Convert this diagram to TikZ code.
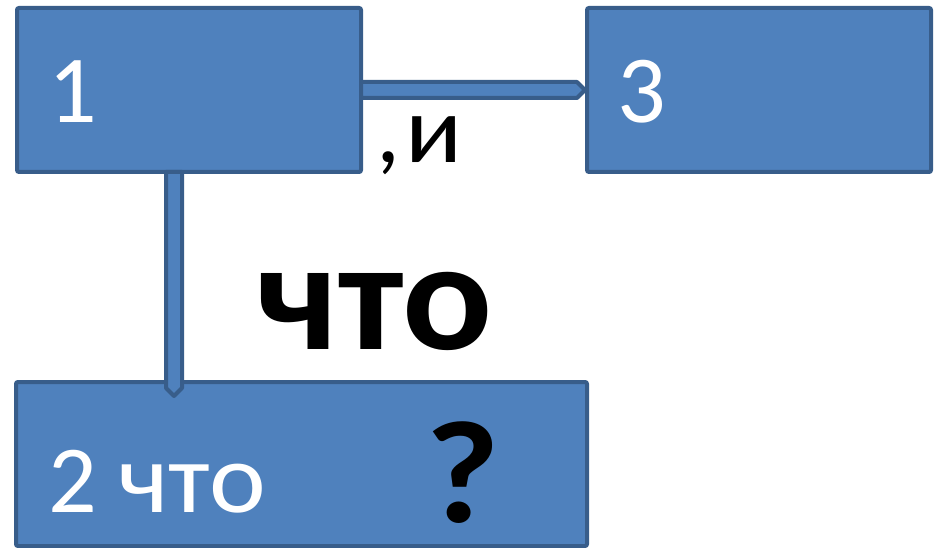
\documentclass[tikz,border=0pt]{standalone}
\usepackage{fontspec}
\setmainfont{Carlito}
\usetikzlibrary{calc}
\definecolor{boxfill}{HTML}{4F81BD}
\definecolor{boxline}{HTML}{385D8A}
\tikzset{
  box/.style={draw=boxline, fill=boxfill, line width=4pt, rounded corners=2pt, inner sep=0pt, outer sep=0pt},
  conn/.style={draw=boxline, fill=boxfill, line width=4pt, line join=round},
  wtxt/.style={text=white, inner sep=0pt, anchor=base west, font=\fontsize{96}{96}\selectfont},
  btxt/.style={text=black, inner sep=0pt, anchor=base west},
}
\begin{document}
\begin{tikzpicture}[x=1pt,y=-1pt]
\useasboundingbox (0,0) rectangle (938,548);
\node[box, minimum width=344pt, minimum height=164pt] (n1) at (189,90) {};
\node[box, minimum width=344pt, minimum height=164pt] (n3) at (759,90) {};
\node[box, minimum width=571pt, minimum height=164pt] (n2) at (301.5,464) {};
% horizontal connector n1 -> n3
\path[conn] ($(n1.east)+(0,-8)$) -- ($(n3.west)+(-10,-8)$) -- ($(n3.west)+(-2,0)$)
  -- ($(n3.west)+(-10,8)$) -- ($(n1.east)+(0,8)$) -- cycle;
% vertical connector n1 -> n2
\path[conn] ($(n1.south)+(-23,0)$) -- ($(n2.north -| n1.south)+(-23,6)$) -- ($(n2.north -| n1.south)+(-15,14)$)
  -- ($(n2.north -| n1.south)+(-7,6)$) -- ($(n1.south)+(-7,0)$) -- cycle;
\node[wtxt] (t1) at (48,123) {1};
\node[wtxt] (t3) at (617,123) {3};
\node[wtxt] (t2) at (48,512) {2 \scalebox{1.12}[1.04]{что}};
\node[btxt, font=\fontsize{96}{96}\selectfont] (ti) at (376,163) {,\kern5pt\scalebox{1.1}[1]{и}};
\node[btxt, font=\fontsize{160}{160}\selectfont\bfseries] (tc) at (256,349) {\scalebox{1.05}[0.98]{что}};
\node[btxt, font=\fontsize{146}{146}\selectfont\bfseries] (tq) at (425,522) {\scalebox{1.1}[1]{?}};
\end{tikzpicture}
\end{document}
